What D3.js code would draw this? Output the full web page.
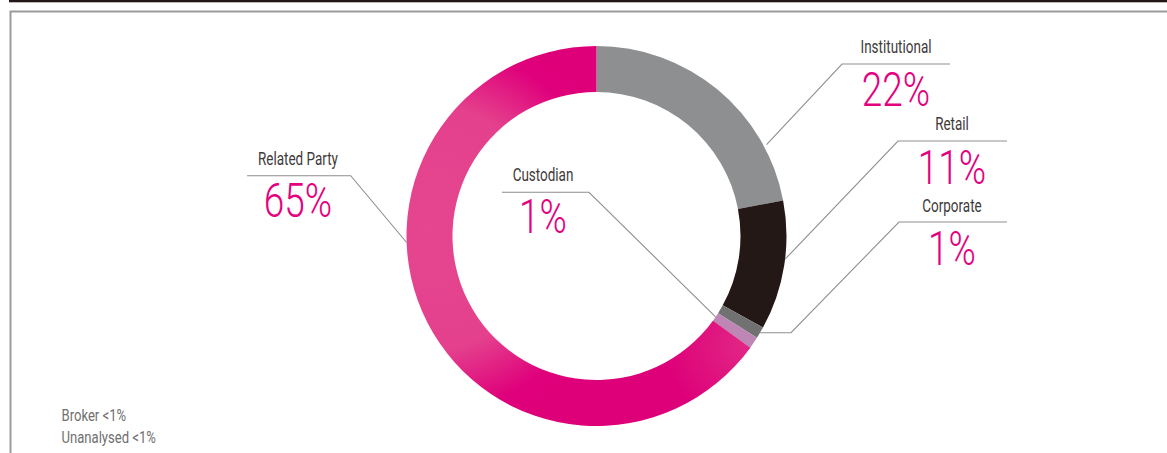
<!DOCTYPE html>
<html>
<head>
<meta charset="utf-8">
<script src="https://cdn.jsdelivr.net/npm/d3@7"></script>
<style>
  html, body { margin: 0; padding: 0; background: #ffffff; }
  svg { display: block; }
  text { font-family: Roboto, "Liberation Sans Narrow", "DejaVu Sans Condensed", sans-serif; }
</style>
</head>
<body>
<svg id="chart" width="1167" height="453"></svg>
<script>
// Shareholder mix, clockwise from 12 o'clock
const categories = ["Institutional", "Retail", "Corporate", "Custodian", "Related Party"];
const shares = [22, 11, 1, 1, 65];
const valueLabels = ["22%", "11%", "1%", "1%", "65%"];
const sliceColors = ["#8e8f91", "#231815", "#717171", "#be86b4", "url(#pinkFill)"];
// Holder groups too small to draw
const minorGroups = ["Broker", "Unanalysed"];
const minorLabels = ["<1%", "<1%"];

const W = 1167, H = 453;
const cx = 596.5, cy = 236, R = 190, r0 = 144;
const PINK = "#e4007f", INK = "#3e3a39", LEAD = "#8f8f8f";
const SQUEEZE = 0.77; // condensed lettering

const svg = d3.select("#chart");
const defs = svg.append("defs");

// magenta band: lighter wash over its left half (ring coordinates)
const fill = defs.append("radialGradient").attr("id", "pinkFill")
  .attr("gradientUnits", "userSpaceOnUse")
  .attr("cx", 428 - cx).attr("cy", 228 - cy).attr("r", 205);
[[0, "#e5468f"], [0.6, "#e4408d"], [0.78, "#e11a82"], [0.9, "#df007b"], [1, "#de0079"]]
  .forEach(([o, c]) => fill.append("stop").attr("offset", o).attr("stop-color", c));
// and a faint patch on the lower right
const glow = defs.append("radialGradient").attr("id", "pinkGlow")
  .attr("gradientUnits", "userSpaceOnUse")
  .attr("cx", 745 - cx).attr("cy", 345 - cy).attr("r", 80);
glow.append("stop").attr("offset", 0).attr("stop-color", "#e4408d").attr("stop-opacity", 0.6);
glow.append("stop").attr("offset", 1).attr("stop-color", "#e4408d").attr("stop-opacity", 0);

// page frame
svg.append("rect").attr("x", 9).attr("y", 0).attr("width", W - 9).attr("height", 2.3).attr("fill", "#231815");
svg.append("path").attr("d", `M10.5,${H} V11.5 H${W}`)
  .attr("fill", "none").attr("stroke", "#9b9b9b").attr("stroke-width", 2);

// donut
const pie = d3.pie().sort(null).value(d => d)(shares);
const arc = d3.arc().innerRadius(r0).outerRadius(R);
const ring = svg.append("g").attr("transform", `translate(${cx},${cy})`);
ring.selectAll("path.slice").data(pie).join("path")
  .attr("class", "slice")
  .attr("d", arc)
  .attr("fill", (d, i) => sliceColors[i]);
ring.append("path").attr("d", arc(pie[4])).attr("fill", "url(#pinkGlow)");

// callout layout: where the leader leaves the ring (fraction along the slice, radius),
// the elbow, where the shelf ends, and the label baselines
const callouts = [
  { t: 0.78, rad: R + 3, elbow: [842, 64], end: 950, tx: 896, ty: 52.5, vy: 106 },
  { t: 0.45, rad: R, elbow: [898, 141], end: 1007, tx: 952, ty: 129.5, vy: 183.5 },
  { t: 0.5, rad: R, hook: 791, elbow: [899, 222], end: 1007, tx: 952, ty: 211.5, vy: 265 },
  { t: 0.5, rad: r0, elbow: [589, 192.3], end: 502, tx: 543, ty: 180.5, vy: 233 },
  { t: 0.607, rad: R, elbow: [350.7, 175.7], end: 247, tx: 298, ty: 165, vy: 216.5 }
];

function squeezedText(sel, x, y, str, size, weight, color) {
  return sel.append("text")
    .attr("transform", `translate(${x},${y}) scale(${SQUEEZE},1)`)
    .attr("text-anchor", "middle")
    .attr("font-size", size)
    .attr("font-weight", weight)
    .attr("fill", color)
    .text(str);
}

const labels = svg.append("g");
pie.forEach((d, i) => {
  const c = callouts[i];
  const a = d.startAngle + (d.endAngle - d.startAngle) * c.t;
  const sx = cx + c.rad * Math.sin(a), sy = cy - c.rad * Math.cos(a);
  const pts = [[sx, sy]];
  if (c.hook) pts.push([c.hook, sy]);
  pts.push(c.elbow, [c.end, c.elbow[1]]);
  labels.append("path")
    .attr("d", d3.line()(pts))
    .attr("fill", "none").attr("stroke", LEAD).attr("stroke-width", 1.1);
  squeezedText(labels, c.tx, c.ty, categories[i], 17.5, 400, INK);
  squeezedText(labels, c.tx, c.vy, valueLabels[i], 48, 300, PINK);
});

// footnote for groups below one percent
const notes = svg.append("g");
minorGroups.forEach((name, i) => {
  notes.append("text")
    .attr("transform", `translate(61.5,${420.5 + i * 22}) scale(${SQUEEZE},1)`)
    .attr("font-size", 17)
    .attr("fill", "#707070")
    .text(`${name} ${minorLabels[i]}`);
});
</script>
</body>
</html>
